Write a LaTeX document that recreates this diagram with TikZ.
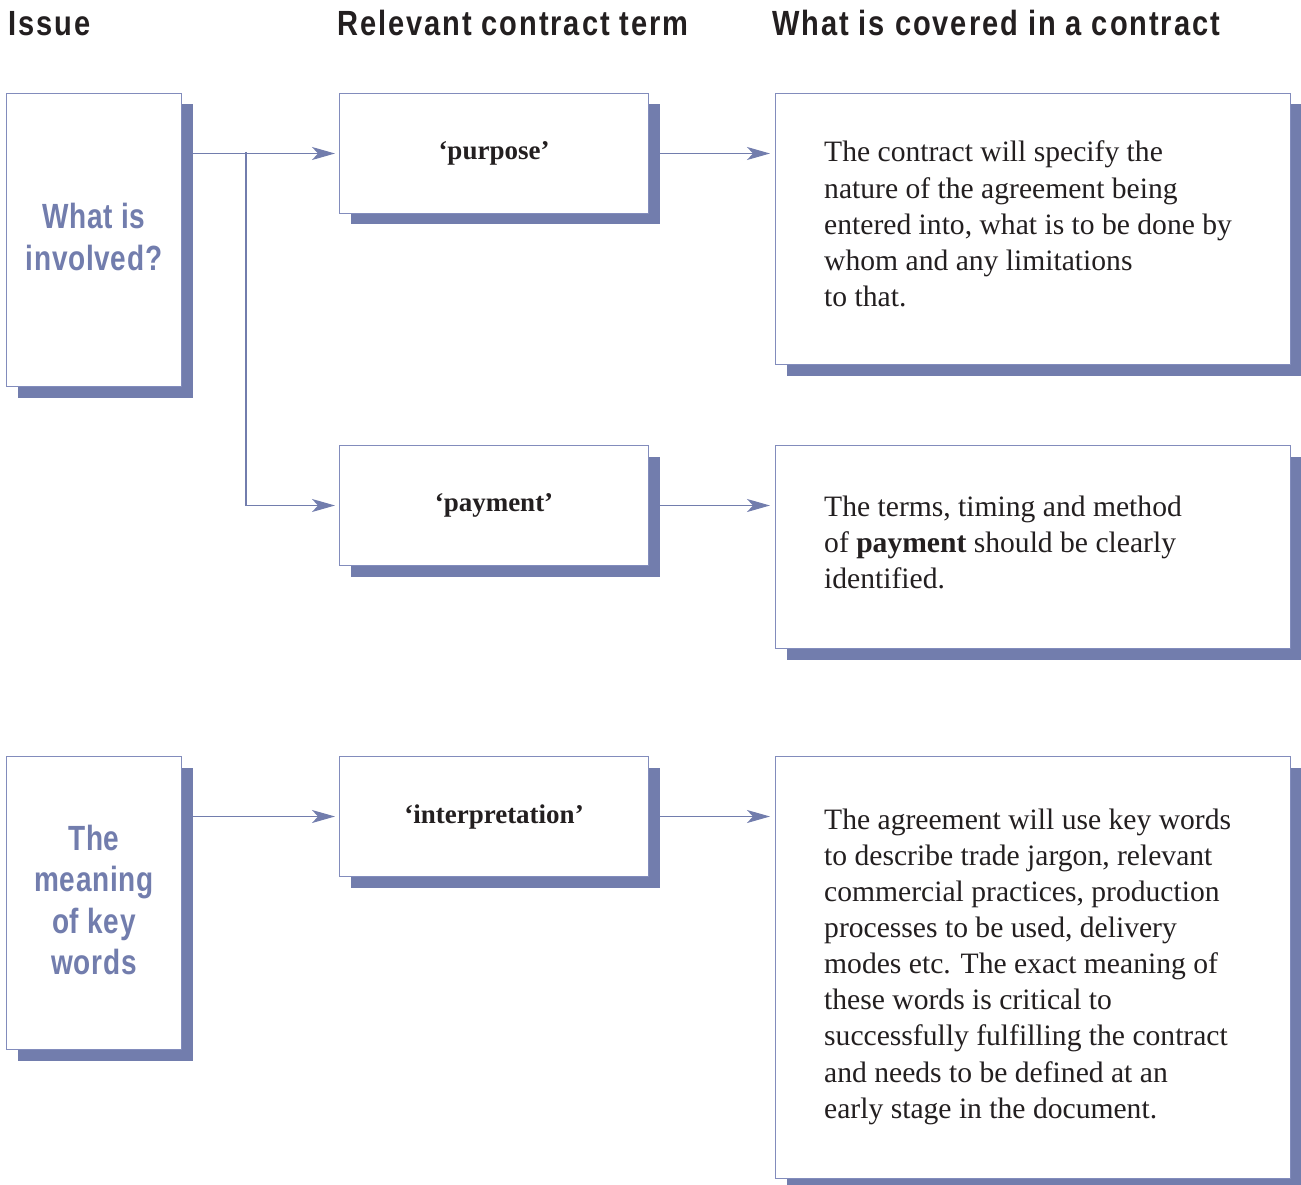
\documentclass[tikz,border=0pt]{standalone}
\usepackage{fontspec}
\setmainfont{Liberation Serif}
\newfontfamily\headfont{Liberation Sans}[FakeStretch=0.83,LetterSpace=5.5]
\newfontfamily\issuefont{Liberation Sans}[FakeStretch=0.8,LetterSpace=2]
\usetikzlibrary{arrows.meta,shadows}

\definecolor{accent}{RGB}{114,125,173}
\definecolor{rim}{RGB}{130,140,188}
\definecolor{ink}{RGB}{35,31,32}

\tikzset{
  panel/.style={draw=rim, line width=1pt, fill=white, anchor=north west,
    inner sep=0pt,
    drop shadow={shadow xshift=11pt, shadow yshift=-11pt, fill=accent, opacity=1}},
  issuebox/.style={panel, minimum width=175pt, minimum height=293pt},
  issuelabel/.style={align=center, text=accent, inner sep=0pt,
    font=\issuefont\bfseries\fontsize{35}{41.5}\selectfont},
  termbox/.style={panel, minimum width=309pt, minimum height=120pt,
    text=ink, font=\bfseries\fontsize{27}{32}\selectfont},
  coverbox/.style={panel, minimum width=515pt},
  covertext/.style={anchor=base west, inner sep=0pt, text=ink,
    font=\fontsize{29.6}{36.15}\selectfont},
  head/.style={anchor=base west, inner sep=0pt, text=ink,
    font=\headfont\bfseries\fontsize{35}{40}\selectfont},
  link/.style={draw=accent, line width=1.3pt,
    -{Stealth[length=23pt,width=13pt,inset=6pt]}},
}

\begin{document}
\begin{tikzpicture}[x=1pt,y=-1pt]
\useasboundingbox (0,0) rectangle (1301,1185);

% column headings
\node[head] (hIssue) at (8,36) {Issue};
\node[head] (hTerm) at (337,36) {Relevant contract term};
\node[head] (hCover) at (772,36) {What is covered in a contract};

% issues
\node[issuebox] (issueA) at (6,93) {};
\node[issuebox] (issueB) at (6,756) {};
\node[issuelabel] (issueAlabel) at ([yshift=3pt]issueA.center) {What is\\involved?};
\node[issuelabel] (issueBlabel) at ([yshift=3pt]issueB.center) {The\\meaning\\of key\\words};

% contract terms
\node[termbox] (purpose) at (339,93) {‘purpose’};
\node[termbox] (payment) at (339,445) {‘payment’};
\node[termbox] (interp) at (339,756) {‘interpretation’};

% what each term covers
\node[coverbox, minimum height=271pt] (coverA) at (775,93) {};
\node[coverbox, minimum height=203pt] (coverB) at (775,445) {};
\node[coverbox, minimum height=422pt] (coverC) at (775,756) {};

\node[covertext] (coverAtext) at (824,162) {\parbox[t]{460pt}{\raggedright
  The contract will specify the\\
  nature of the agreement being\\
  entered into, what is to be done by\\
  whom and any limitations\\
  to that.}};
\node[covertext] (coverBtext) at (824,516) {\parbox[t]{460pt}{\raggedright
  The terms, timing and method\\
  of \textbf{payment} should be clearly\\
  identified.}};
\node[covertext] (coverCtext) at (824,829) {\parbox[t]{460pt}{\raggedright
  The agreement will use key words\\
  to describe trade jargon, relevant\\
  commercial practices, production\\
  processes to be used, delivery\\
  modes etc. The exact meaning of\\
  these words is critical to\\
  successfully fulfilling the contract\\
  and needs to be defined at an\\
  early stage in the document.}};

% connectors
\coordinate (fork) at (246,152);
\draw[link] ([xshift=11pt]issueA.east |- purpose.west) -- ([xshift=-4pt]purpose.west);
\draw[link] (fork) |- ([xshift=-4pt]payment.west);
\draw[link] ([xshift=11pt]issueB.east |- interp.west) -- ([xshift=-4pt]interp.west);

\draw[link] ([xshift=11pt]purpose.east) -- ([xshift=-5pt]coverA.west |- purpose.east);
\draw[link] ([xshift=11pt]payment.east) -- ([xshift=-5pt]coverB.west |- payment.east);
\draw[link] ([xshift=11pt]interp.east) -- ([xshift=-5pt]coverC.west |- interp.east);
\end{tikzpicture}
\end{document}
